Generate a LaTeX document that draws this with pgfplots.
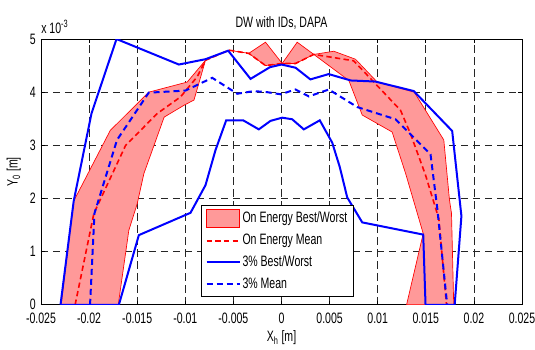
\documentclass[border=0pt]{standalone}
\usepackage{pgfplots}
\pgfplotsset{compat=1.18}
\usepackage{fontspec}
\setmainfont{Liberation Sans}[FakeStretch=0.70]
\definecolor{bandfill}{RGB}{255,153,153}
\pgfplotsset{
  rectleg/.style={legend image code/.code={\draw[##1] (0pt,-6.6pt) rectangle (17.1pt,6.6pt);}},
}
\begin{document}
\fontsize{11.3}{13.5}\selectfont
\begin{tikzpicture}
\begin{axis}[
  scale only axis, width=360.75pt, height=199.3pt,
  clip mode=individual,
  xmin=-25, xmax=25, ymin=0, ymax=5,
  xtick={-25,-20,-15,-10,-5,0,5,10,15,20,25},
  xticklabels={-0.025,-0.02,-0.015,-0.01,-0.005,0,0.005,0.01,0.015,0.02,0.025},
  ytick={0,1,2,3,4,5},
  /pgf/number format/assume math mode=true,
  ticklabel style={font=\fontsize{11.3}{13.5}\selectfont},
  xticklabel style={yshift=-2.5pt},
  grid=major,
  major grid style={black!85, line width=0.55pt, dash pattern=on 5.5pt off 3.5pt},
  tick align=inside, major tick length=3pt,
  axis line style={black, line width=0.6pt},
  tick style={black, line width=0.6pt},
  title={DW with IDs, DAPA},
  title style={yshift=-3pt},
  xlabel={X\textsubscript{h} [m]},
  ylabel={Y\textsubscript{0} [m]},
  xlabel style={yshift=2.5pt},
  ylabel style={yshift=-1pt},
  legend cell align=left,
  legend image post style={xscale=1.45},
  legend style={at={(0.650,0.030)}, anchor=south east, draw=black, line width=0.6pt,
    fill=white, font=\fontsize{11.3}{13.5}\selectfont, row sep=3.5pt, inner sep=3pt,
    nodes={inner sep=1.5pt}},
]
% On Energy Best/Worst band
\addplot[draw=red, line width=0.5pt, fill=bandfill, rectleg]
  coordinates {
  (-22.9,0) (-21.6,1.95) (-17.8,3.28) (-13.8,4.0) (-9.8,4.19) (-7.9,4.6)
  (-5.47,4.79) (-3.4,4.73) (-1.66,4.94) (0.07,4.54) (1.63,4.94) (3.36,4.71)
  (5.44,4.77) (7.69,4.62) (9.95,4.19) (13.8,4.0) (16.87,3.1) (17.46,1.97)
  (17.67,1.72) (17.9,0) (13.0,0) (14.73,1.34) (12.9,2.47) (11.5,3.25)
  (8.39,3.57) (7.0,4.22) (3.36,4.71) (1.46,4.54) (0.07,4.54) (-1.66,4.5)
  (-3.4,4.73) (-5.47,4.79) (-7.9,4.6) (-9.1,3.85) (-9.98,3.77) (-12.2,3.53)
  (-14.3,2.47) (-15.0,1.9) (-15.87,1.4) (-16.97,0) (-22.9,0)
  } -- cycle;
\addlegendentry{On Energy Best/Worst}
% On Energy Mean
\addplot[color=red, line width=1.2pt, dash pattern=on 4pt off 2.5pt]
  coordinates {
  (-21.45,0) (-19.5,1.72) (-16.2,3.0) (-12.9,3.6) (-10.5,3.91) (-8.76,4.29)
  (-7.9,4.6) (-5.47,4.79) (-3.4,4.73) (-1.66,4.5) (0.07,4.54) (1.46,4.54)
  (3.36,4.71) (7.5,4.59) (12.37,3.66) (13.4,3.22) (14.97,2.44) (16.35,1.62)
  (17.15,0)
  };
\addlegendentry{On Energy Mean}
% 3% Best/Worst
\addplot[color=blue, line width=1.5pt]
  coordinates {
  (-22.97,0) (-21.6,1.95) (-19.75,3.6) (-17.15,5.0) (-10.67,4.52) (-7.9,4.62)
  (-5.54,4.78) (-3.22,4.25) (-1.2,4.47) (0,4.52) (1.46,4.46) (3.0,4.24)
  (4.9,4.34) (7.2,4.22) (9.77,4.2) (13.75,4.02) (17.74,3.27) (18.7,1.67)
  (18.0,0) (14.97,0) (14.73,1.32) (8.39,1.55) (6.83,2.02) (6.06,2.59)
  (5.27,3.05) (3.98,3.47) (2.32,3.3) (1.11,3.49) (0.07,3.52) (-1.14,3.46)
  (-2.36,3.3) (-3.98,3.47) (-5.75,3.47) (-6.86,2.91) (-7.9,2.25) (-9.46,1.73)
  (-14.83,1.31) (-16.9,0) (-22.97,0)
  };
\addlegendentry{3\% Best/Worst}
% 3% Mean
\addplot[color=blue, line width=1.5pt, dash pattern=on 4.5pt off 3pt]
  coordinates {
  (-19.9,0) (-19.44,1.72) (-17.1,3.1) (-13.8,3.99) (-9.98,4.03) (-7.2,4.27)
  (-4.6,3.97) (-2.88,4.02) (-1.49,4.0) (-0.1,3.96) (1.46,4.05) (2.84,3.92)
  (4.92,4.05) (7.87,3.72) (11.85,3.49) (15.49,2.83) (16.2,1.8) (17.22,0)
  };
\addlegendentry{3\% Mean}
\node[anchor=south west, inner sep=0pt] at (rel axis cs:0,1) [yshift=4pt]
  {x 10\textsuperscript{-3}};
\coordinate (bbSW) at (rel axis cs:-0.0852,-0.1667);
\coordinate (bbNE) at (rel axis cs:1.0270,1.1468);
\end{axis}
\pgfresetboundingbox
\path (bbSW) rectangle (bbNE);
\end{tikzpicture}
\end{document}
